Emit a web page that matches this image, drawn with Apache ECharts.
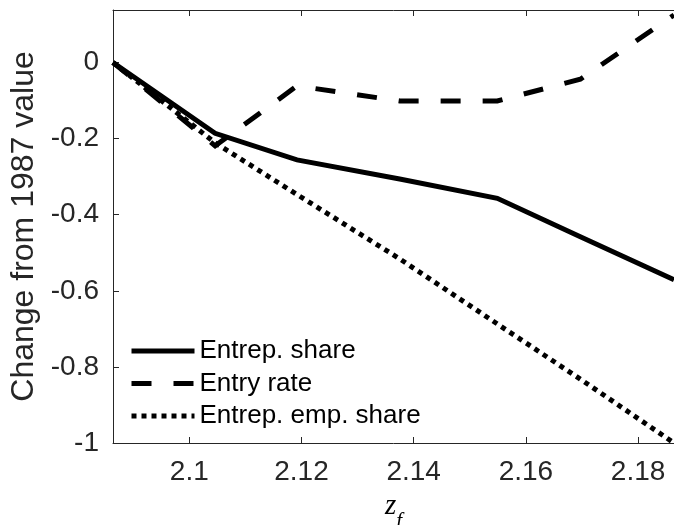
<!DOCTYPE html>
<html>
<head>
<meta charset="utf-8">
<script src="https://cdn.jsdelivr.net/npm/echarts@6/dist/echarts.min.js"></script>
<style>
  html, body { margin: 0; padding: 0; background: #fff; }
  #chart { width: 674px; height: 525px; }
</style>
</head>
<body>
<div id="chart"></div>
<script>
// z_f values and the change of each outcome relative to its 1987 value
const zf = [2.0864, 2.1046, 2.1192, 2.1375, 2.1549, 2.1697, 2.1864];
const entrepShare = [0, -0.186, -0.256, -0.306, -0.357, -0.458, -0.571];
const entryRate = [0, -0.219, -0.0615, -0.101, -0.101, -0.044, 0.125];
const entrepEmpShare = [0, -0.211, -0.347, -0.516, -0.687, -0.832, -1.0];

const seriesNames = ['Entrep. share', 'Entry rate', 'Entrep. emp. share'];
const xRange = [2.0864, 2.1864];
const yRange = [-1, 0.138];

const pairs = ys => zf.map((x, i) => [x, ys[i]]);

const axisColor = '#262626';
const tickFont = { fontFamily: 'Liberation Sans, Arial, sans-serif', fontSize: 28, color: axisColor };

const chart = echarts.init(document.getElementById('chart'), null, { renderer: 'canvas' });

const lineSeries = (name, data, type) => ({
  name: name,
  type: 'line',
  data: data,
  symbol: 'none',
  xAxisIndex: 0,
  yAxisIndex: 0,
  clip: true,
  lineStyle: { color: '#000', width: 5, type: type, cap: 'butt', join: 'miter' },
  itemStyle: { color: '#000' },
  emphasis: { disabled: true }
});

chart.setOption({
  animation: false,
  backgroundColor: '#fff',
  grid: { left: 113, top: 10, right: 0, bottom: 82, containLabel: false, outerBoundsMode: 'none' },
  legend: {
    orient: 'vertical',
    left: 129,
    top: 336,
    padding: 0,
    itemWidth: 63,
    itemHeight: 14,
    itemGap: 2.5,
    selectedMode: false,
    lineStyle: { width: 5 },
    itemStyle: { opacity: 0 },
    textStyle: { fontFamily: 'Liberation Sans, Arial, sans-serif', fontSize: 26, color: '#000', lineHeight: 30 },
    data: seriesNames
  },
  xAxis: [
    {
      type: 'value',
      min: xRange[0],
      max: xRange[1],
      splitNumber: 5,
      position: 'bottom',
      name: '{z|z}{f|f}',
      nameLocation: 'middle',
      nameGap: 49,
      nameTextStyle: {
        rich: {
          z: { fontFamily: 'Liberation Serif, DejaVu Serif, serif', fontStyle: 'italic', fontSize: 29, color: '#000', lineHeight: 40, verticalAlign: 'top' },
          f: { fontFamily: 'Liberation Serif, DejaVu Serif, serif', fontStyle: 'italic', fontSize: 21, color: '#000', lineHeight: 28, verticalAlign: 'bottom' }
        }
      },
      axisLine: { show: true, onZero: false, lineStyle: { color: axisColor, width: 1 } },
      axisTick: { show: true, inside: true, length: 6, lineStyle: { color: axisColor } },
      axisLabel: Object.assign({ margin: 15, showMinLabel: false, showMaxLabel: false }, tickFont),
      splitLine: { show: false }
    },
    {
      type: 'value',
      min: xRange[0],
      max: xRange[1],
      splitNumber: 5,
      position: 'top',
      axisLine: { show: true, onZero: false, lineStyle: { color: axisColor, width: 1 } },
      axisTick: { show: true, inside: true, length: 6, lineStyle: { color: axisColor } },
      axisLabel: { show: false },
      splitLine: { show: false }
    }
  ],
  yAxis: [
    {
      type: 'value',
      min: yRange[0],
      max: yRange[1],
      interval: 0.2,
      position: 'left',
      name: 'Change from 1987 value',
      nameLocation: 'middle',
      nameGap: 57,
      nameTextStyle: { fontFamily: 'Liberation Sans, Arial, sans-serif', fontSize: 32, color: axisColor },
      axisLine: { show: true, onZero: false, lineStyle: { color: axisColor, width: 1 } },
      axisTick: { show: true, inside: true, length: 6, lineStyle: { color: axisColor } },
      axisLabel: Object.assign({ margin: 14, showMaxLabel: false }, tickFont),
      splitLine: { show: false }
    }
  ],
  series: [
    lineSeries(seriesNames[0], pairs(entrepShare), 'solid'),
    lineSeries(seriesNames[1], pairs(entryRate), [20, 22]),
    lineSeries(seriesNames[2], pairs(entrepEmpShare), [5, 5])
  ]
});
</script>
</body>
</html>
